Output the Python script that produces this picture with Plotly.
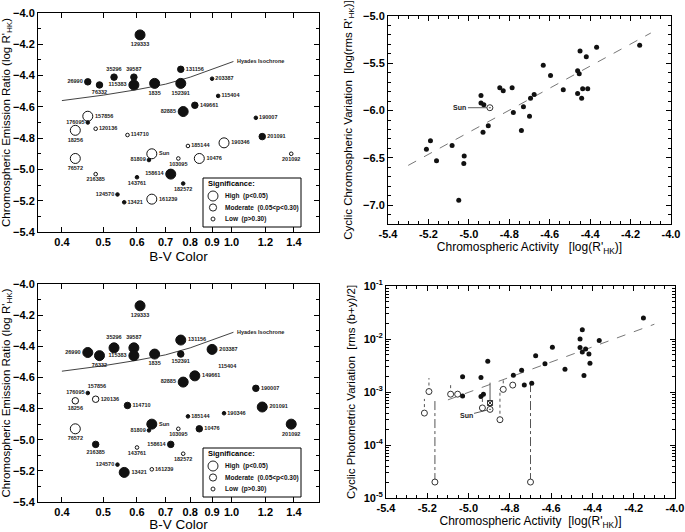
import math
import plotly.graph_objects as go

W, H = 685, 532
FONT = "Liberation Sans, Arial, sans-serif"

# ---------------- Left panels: B-V colour vs. log R'HK ----------------
star_ids = ["129333", "26990", "76332", "35296", "39587", "115383", "1835", "152391",
            "131156", "203387", "115404", "149661", "82885", "157856", "176095", "18256",
            "120136", "114710", "185144", "190346", "Sun", "81809", "103095", "10476",
            "76572", "216385", "143761", "158614", "182572", "124570", "13421", "161239",
            "190007", "201091", "201092"]
bv_color = [0.61, 0.46, 0.49, 0.53, 0.59, 0.59, 0.66, 0.76,
            0.76, 0.90, 0.93, 0.82, 0.77, 0.46, 0.46, 0.43,
            0.48, 0.57, 0.79, 0.96, 0.65, 0.64, 0.75, 0.84,
            0.43, 0.48, 0.60, 0.72, 0.77, 0.54, 0.56, 0.65,
            1.14, 1.18, 1.38]
log_rhk = [-4.14, -4.44, -4.46, -4.41, -4.41, -4.46, -4.45, -4.45,
           -4.36, -4.42, -4.53, -4.59, -4.63, -4.66, -4.70, -4.75,
           -4.74, -4.78, -4.85, -4.83, -4.90, -4.94, -4.93, -4.93,
           -4.93, -5.03, -5.05, -5.03, -5.09, -5.16, -5.21, -5.19,
           -4.67, -4.79, -4.90]
# significance of chromospheric cycle (H/M/L) and filled (True) / open (False)
chrom_sig = ["H", "M", "M", "M", "M", "H", "H", "H",
             "M", "L", "L", "M", "H", "H", "L", "H",
             "L", "L", "L", "H", "H", "L", "L", "H",
             "H", "L", "L", "H", "L", "L", "L", "H",
             "L", "M", "L"]
chrom_filled = [True, True, True, True, True, True, True, True,
                True, True, True, True, True, False, True, False,
                False, False, False, False, False, True, False, False,
                False, False, True, True, True, True, True, False,
                True, True, False]
# significance of photometric cycle (None = not measured)
phot_sig = ["H", "H", "H", "H", "H", "H", "H", "M",
            "H", "H", None, "H", "H", None, "L", "M",
            "M", "M", "L", "L", "H", "L", "L", "M",
            "H", "M", "L", "M", "L", "L", "H", "L",
            "M", "H", "H"]
phot_filled = [True, True, True, True, True, True, True, True,
               True, True, True, True, True, True, True, False,
               False, True, True, True, True, True, False, True,
               False, True, False, True, False, True, True, False,
               True, True, True]

hyades_bv = [0.40, 0.50, 0.60, 0.70, 0.80, 0.90, 1.01]
hyades_rhk = [-4.56, -4.525, -4.49, -4.455, -4.41, -4.36, -4.31]

bv_ticks = [0.4, 0.5, 0.6, 0.7, 0.8, 0.9, 1.0, 1.2, 1.4]

# ---------------- Top-right: cyclic chromospheric variation ----------------
chrom_act = [-5.21, -5.19, -5.16, -5.083, -5.023, -5.025, -5.05, -4.94, -4.94, -4.926,
             -4.93, -4.904, -4.847, -4.83, -4.786, -4.78, -4.73, -4.74, -4.70, -4.695,
             -4.677, -4.632, -4.596, -4.533, -4.462, -4.454, -4.45, -4.462, -4.442, -4.437,
             -4.412, -4.419, -4.368, -4.155]
chrom_var = [-6.41, -6.32, -6.53, -6.37, -6.48, -6.56, -6.95, -5.84, -5.92, -5.94,
             -6.23, -6.16, -5.76, -5.79, -5.76, -6.02, -5.96, -6.21, -6.06, -5.87,
             -5.83, -5.52, -5.63, -5.78, -5.58, -5.61, -5.37, -5.82, -5.87, -5.77,
             -5.77, -5.43, -5.33, -5.31]
chrom_fit_x = [-5.30, -4.10]
chrom_fit_y = [-6.58, -5.18]
sun_act = -4.896
sun_chrom_var = -5.97

# ---------------- Bottom-right: cyclic photometric variation ----------------
phot_act = [-5.029, -5.029, -4.94, -4.94, -4.928, -4.907, -4.783, -4.743, -4.73, -4.694,
            -4.675, -4.63, -4.594, -4.533, -4.46, -4.449, -4.46, -4.449, -4.433, -4.417,
            -4.412, -4.441, -4.367, -4.153]
phot_var = [8.4e-4, 1.95e-3, 1.87e-3, 8.2e-4, 9.1e-4, 3.8e-3, 2.06e-3, 2.57e-3, 1.35e-3, 1.46e-3,
            4.85e-3, 3.43e-3, 6.95e-3, 2.68e-3, 1.0e-2, 1.5e-2, 6.9e-3, 5.7e-3, 6.5e-3, 5.2e-3,
            3.47e-3, 2.04e-3, 9.4e-3, 2.5e-2]
lim_act = [-5.214, -5.192, -5.163, -5.087, -5.053, -4.933, -4.848, -4.832, -4.786, -4.700]
lim_var = [4.0e-4, 1.02e-3, 2.0e-5, 9.1e-4, 9.1e-4, 5.0e-4, 3.0e-4, 1.12e-3, 1.35e-3, 2.0e-5]
lim_top = [7.4e-4, 1.83e-3, 7.6e-4, 1.35e-3, None, 7.4e-4, 1.14e-3, 1.77e-3, None, 1.42e-3]
phot_fit_x = [-5.10, -4.10]
phot_fit_y = [7.1e-4, 1.9e-2]
sun_phot_var = 4.7e-4
sun_phot_alt = 6.2e-4
sun_phot_top = 1.5e-3

act_ticks = [-5.4, -5.2, -5.0, -4.8, -4.6, -4.4, -4.2, -4.0]

# ---------------- styling helpers ----------------
label_pos = ["bottom center", "middle left", "bottom center", "top center", "top center",
             "middle left", "bottom center", "bottom center", "middle right", "middle right",
             "middle right", "middle right", "middle left", "middle right", "middle left",
             "bottom center", "middle right", "middle right", "middle right", "middle right",
             "middle right", "middle left", "bottom center", "middle right", "bottom center",
             "bottom center", "bottom center", "middle left", "bottom center", "middle left",
             "middle right", "middle right", "middle right", "middle right", "bottom center"]
SIZE = {"H": 10, "M": 6.5, "L": 3.6}
INK = "#111111"


def px(X):
    return X / W


def py(Y):
    return 1 - Y / H


def bv_trace(sig, filled, xa, ya):
    return go.Scatter(
        x=bv_color, y=log_rhk, mode="markers+text", text=star_ids, textposition=label_pos,
        textfont=dict(family=FONT, size=5.5, color="#222", weight="bold"),
        marker=dict(size=[SIZE.get(s, 0) for s in sig], opacity=1,
                    color=[INK if f else "white" for f in filled],
                    line=dict(color=INK, width=[0 if s is None else 1 for s in sig])),
        xaxis=xa, yaxis=ya, showlegend=False, cliponaxis=False, hoverinfo="skip")


def hyades_trace(xa, ya):
    return go.Scatter(x=hyades_bv, y=hyades_rhk, mode="lines", line=dict(color=INK, width=0.8),
                      xaxis=xa, yaxis=ya, showlegend=False, hoverinfo="skip")


fig = go.Figure()
fig.add_trace(hyades_trace("x", "y"))
fig.add_trace(bv_trace(chrom_sig, chrom_filled, "x", "y"))
fig.add_trace(hyades_trace("x2", "y2"))
fig.add_trace(bv_trace(phot_sig, phot_filled, "x2", "y2"))

# top-right
fig.add_trace(go.Scatter(x=chrom_fit_x, y=chrom_fit_y, mode="lines",
                         line=dict(color="#777", width=1, dash="dash"),
                         xaxis="x3", yaxis="y3", showlegend=False))
fig.add_trace(go.Scatter(x=chrom_act, y=chrom_var, mode="markers",
                         marker=dict(size=5, color=INK, opacity=1), xaxis="x3", yaxis="y3", showlegend=False))
fig.add_trace(go.Scatter(x=[sun_act], y=[sun_chrom_var], mode="markers",
                         marker=dict(size=6, color="#333", symbol="circle-open-dot", line=dict(width=1)),
                         xaxis="x3", yaxis="y3", showlegend=False))

# bottom-right
seg_x, seg_y, seg2_x, seg2_y = [], [], [], []
for a, v, t in zip(lim_act, lim_var, lim_top):
    if t is None:
        continue
    tgt_x, tgt_y = (seg2_x, seg2_y) if v < 1e-4 else (seg_x, seg_y)
    tgt_x += [a, a, None]
    tgt_y += [v, t, None]
fig.add_trace(go.Scatter(x=phot_fit_x, y=phot_fit_y, mode="lines",
                         line=dict(color="#777", width=1, dash="dash"),
                         xaxis="x4", yaxis="y4", showlegend=False))
fig.add_trace(go.Scatter(x=seg_x, y=seg_y, mode="lines", line=dict(color="#555", width=1, dash="dot"),
                         xaxis="x4", yaxis="y4", showlegend=False))
fig.add_trace(go.Scatter(x=seg2_x, y=seg2_y, mode="lines", line=dict(color="#555", width=1, dash="dashdot"),
                         xaxis="x4", yaxis="y4", showlegend=False))
fig.add_trace(go.Scatter(x=[sun_act, sun_act], y=[sun_phot_alt, sun_phot_top], mode="lines",
                         line=dict(color="#555", width=1), xaxis="x4", yaxis="y4", showlegend=False))
fig.add_trace(go.Scatter(x=lim_act, y=lim_var, mode="markers",
                         marker=dict(size=6, color="white", line=dict(color="#333", width=1)),
                         xaxis="x4", yaxis="y4", showlegend=False))
fig.add_trace(go.Scatter(x=phot_act, y=phot_var, mode="markers",
                         marker=dict(size=5, color=INK, opacity=1), xaxis="x4", yaxis="y4", showlegend=False))
fig.add_trace(go.Scatter(x=[sun_act], y=[sun_phot_alt], mode="markers",
                         marker=dict(size=5, color="#333", symbol="square-x-open", line=dict(width=1)),
                         xaxis="x4", yaxis="y4", showlegend=False))
fig.add_trace(go.Scatter(x=[sun_act], y=[sun_phot_var], mode="markers",
                         marker=dict(size=6, color="#333", symbol="circle-open-dot", line=dict(width=1)),
                         xaxis="x4", yaxis="y4", showlegend=False))

# ---------------- axes ----------------
TICKFONT = dict(family=FONT, size=11, color="black", weight="bold")
TITLEFONT = dict(family=FONT, size=11.5, color="black")
base = dict(showline=True, linecolor="black", linewidth=1, mirror="allticks", ticks="inside",
            ticklen=5, tickcolor="black", tickfont=TICKFONT, showgrid=False, zeroline=False,
            automargin=False, ticklabeloverflow="allow")

xL = [px(38), px(319)]
yTL = [py(232), py(13)]
yBL = [py(502), py(284)]
xTR = [px(388), px(671)]
yTR = [py(224), py(16)]
xBR = [px(386), px(675)]
yBR = [py(498), py(286)]

bv_axis = dict(base, type="log", range=[-0.454, 0.205], tickvals=bv_ticks,
               ticktext=["%.1f" % v for v in bv_ticks],
               title=dict(text="B-V Color", font=dict(TITLEFONT, size=13.5), standoff=4))
rhk_axis = dict(base, range=[-5.4, -4.0], dtick=0.2, tick0=-4.0, tickformat=".1f",
                minor=dict(ticks="inside", ticklen=3, dtick=0.1, tickcolor="black"),
                title=dict(text="Chromospheric Emission Ratio (log R'<sub>HK</sub>)", font=TITLEFONT, standoff=4))
act_axis = dict(base, range=[-5.4, -4.0], tickvals=act_ticks,
                ticktext=["%.1f" % v for v in act_ticks],
                minor=dict(ticks="inside", ticklen=3, dtick=0.05, tick0=-5.4, tickcolor="black"))

fig.update_layout(
    xaxis=dict(bv_axis, domain=xL, anchor="y"),
    yaxis=dict(rhk_axis, domain=yTL, anchor="x"),
    xaxis2=dict(bv_axis, domain=xL, anchor="y2"),
    yaxis2=dict(rhk_axis, domain=yBL, anchor="x2"),
    xaxis3=dict(act_axis, domain=xTR, anchor="y3",
                title=dict(text="Chromospheric Activity \u00a0 [log(R'<sub>HK</sub>)]", font=dict(TITLEFONT, size=12), standoff=3)),
    yaxis3=dict(base, domain=yTR, anchor="x3", range=[-7.2, -5.0], dtick=0.5, tickformat=".1f",
                minor=dict(ticks="inside", ticklen=3, dtick=0.1, tickcolor="black"),
                title=dict(text="Cyclic Chromospheric Variation \u00a0[log(rms R'<sub>HK</sub>)]", font=TITLEFONT, standoff=8)),
    xaxis4=dict(act_axis, domain=xBR, anchor="y4",
                title=dict(text="Chromospheric Activity \u00a0[log(R'<sub>HK</sub>)]", font=dict(TITLEFONT, size=12), standoff=3)),
    yaxis4=dict(base, domain=yBR, anchor="x4", type="log", range=[-5, -1],
                tickvals=[1e-5, 1e-4, 1e-3, 1e-2, 1e-1],
                ticktext=["10<sup>-5</sup>", "10<sup>-4</sup>", "10<sup>-3</sup>", "10<sup>-2</sup>", "10<sup>-1</sup>"],
                minor=dict(ticks="inside", ticklen=3, tickcolor="black", dtick="D1"),
                title=dict(text="Cyclic Photometric Variation \u00a0[rms (b+y)/2]", font=TITLEFONT, standoff=5)),
    width=W, height=H, margin=dict(l=0, r=0, t=0, b=0),
    paper_bgcolor="white", plot_bgcolor="white", showlegend=False,
    font=dict(family=FONT, color="black"),
)

# ---------------- annotations ----------------
ann = []
for xa, ya in [("x", "y"), ("x2", "y2")]:
    ann.append(dict(x=math.log10(hyades_bv[-1]), y=hyades_rhk[-1], xref=xa, yref=ya, text="<b>Hyades Isochrone</b>",
                    showarrow=False, xanchor="left", yanchor="middle", xshift=2,
                    font=dict(family=FONT, size=5.5, color="#222")))
ann.append(dict(x=sun_act, y=sun_chrom_var, xref="x3", yref="y3", text="<b>Sun</b>", showarrow=True,
                arrowhead=0, arrowwidth=0.8, arrowcolor="#333", ax=-30, ay=0, standoff=3,
                font=dict(family=FONT, size=7, color="#222")))
ann.append(dict(x=sun_act, y=math.log10(sun_phot_var), xref="x4", yref="y4", text="<b>Sun</b>", showarrow=True,
                arrowhead=0, arrowwidth=0.8, arrowcolor="#333", ax=-24, ay=6, standoff=3,
                font=dict(family=FONT, size=7, color="#222")))

# significance legends (drawn in pixel space)
shapes = []
for top in (178, 448):
    shapes.append(dict(type="rect", xref="paper", yref="paper", x0=px(203), x1=px(301),
                       y0=py(top + 49), y1=py(top), line=dict(color="black", width=1),
                       fillcolor="white", layer="above"))
    ann.append(dict(x=px(206), y=py(top + 5), xref="paper", yref="paper", text="<b>Significance:</b>",
                    showarrow=False, xanchor="left", yanchor="middle", font=dict(family=FONT, size=7.5)))
    for k, (lab, r) in enumerate([("High \u00a0(p&lt;0.05)", 5), ("Moderate \u00a0(0.05&lt;p&lt;0.30)", 3.6),
                                  ("Low \u00a0(p&gt;0.30)", 2)]):
        cy = top + 18 + 11.5 * k
        shapes.append(dict(type="circle", xref="paper", yref="paper", xsizemode="pixel", ysizemode="pixel",
                           xanchor=px(213), yanchor=py(cy), x0=-r, x1=r, y0=-r, y1=r,
                           line=dict(color="#222", width=1), fillcolor="white", layer="above"))
        ann.append(dict(x=px(223), y=py(cy), xref="paper", yref="paper", text="<b>%s</b>" % lab,
                        showarrow=False, xanchor="left", yanchor="middle", font=dict(family=FONT, size=6.5, color="#111")))

fig.update_layout(annotations=ann, shapes=shapes)
fig.write_html("out.html", config={"displayModeBar": False, "staticPlot": True},
               post_script="document.body.style.margin='0px';document.body.style.overflow='hidden';")
